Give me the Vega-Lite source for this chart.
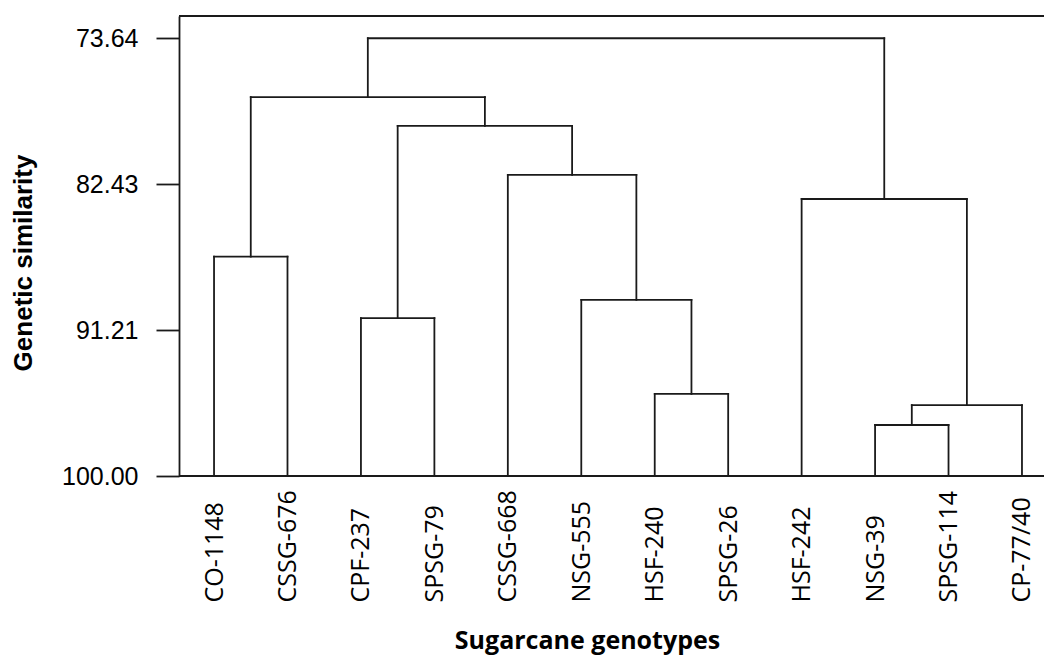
{
  "$schema": "https://vega.github.io/schema/vega-lite/v6.json",
  "width": 865,
  "height": 460,
  "autosize": {"type": "none"},
  "padding": {"left": 179, "top": 16, "right": 0, "bottom": 180},
  "background": "white",
  "config": {"view": {"stroke": null}},
  "datasets": {
    "links": [
      {"x": 1, "x2": 2, "y": 86.79, "y2": 86.79},
      {"x": 3, "x2": 4, "y": 90.49, "y2": 90.49},
      {"x": 7, "x2": 8, "y": 95.06, "y2": 95.06},
      {"x": 6, "x2": 7.5, "y": 89.40, "y2": 89.40},
      {"x": 5, "x2": 6.75, "y": 81.87, "y2": 81.87},
      {"x": 3.5, "x2": 5.875, "y": 78.92, "y2": 78.92},
      {"x": 1.5, "x2": 4.6875, "y": 77.18, "y2": 77.18},
      {"x": 10, "x2": 11, "y": 96.93, "y2": 96.93},
      {"x": 10.5, "x2": 12, "y": 95.73, "y2": 95.73},
      {"x": 9, "x2": 11.25, "y": 83.32, "y2": 83.32},
      {"x": 3.09375, "x2": 10.125, "y": 73.64, "y2": 73.64},
      {"x": 1.5, "x2": 1.5, "y": 86.79, "y2": 77.18},
      {"x": 3.5, "x2": 3.5, "y": 90.49, "y2": 78.92},
      {"x": 7.5, "x2": 7.5, "y": 95.06, "y2": 89.40},
      {"x": 6.75, "x2": 6.75, "y": 89.40, "y2": 81.87},
      {"x": 5.875, "x2": 5.875, "y": 81.87, "y2": 78.92},
      {"x": 4.6875, "x2": 4.6875, "y": 78.92, "y2": 77.18},
      {"x": 3.09375, "x2": 3.09375, "y": 77.18, "y2": 73.64},
      {"x": 10.5, "x2": 10.5, "y": 96.93, "y2": 95.73},
      {"x": 11.25, "x2": 11.25, "y": 95.73, "y2": 83.32},
      {"x": 10.125, "x2": 10.125, "y": 83.32, "y2": 73.64}
    ],
    "leaves": [
      {"genotype": "CO-1148", "top": 86.79, "base": 100},
      {"genotype": "CSSG-676", "top": 86.79, "base": 100},
      {"genotype": "CPF-237", "top": 90.49, "base": 100},
      {"genotype": "SPSG-79", "top": 90.49, "base": 100},
      {"genotype": "CSSG-668", "top": 81.87, "base": 100},
      {"genotype": "NSG-555", "top": 89.40, "base": 100},
      {"genotype": "HSF-240", "top": 95.06, "base": 100},
      {"genotype": "SPSG-26", "top": 95.06, "base": 100},
      {"genotype": "HSF-242", "top": 83.32, "base": 100},
      {"genotype": "NSG-39", "top": 96.93, "base": 100},
      {"genotype": "SPSG-114", "top": 96.93, "base": 100},
      {"genotype": "CP-77/40", "top": 95.73, "base": 100}
    ],
    "frame": [
      {"x": 0, "x2": 1, "y": 72.3},
      {"x": 0, "x2": 1, "y": 100}
    ]
  },
  "layer": [
    {
      "data": {"name": "links"},
      "mark": {"type": "rule", "color": "#1a1a1a", "strokeWidth": 1.8, "strokeCap": "square"},
      "encoding": {
        "x": {"field": "x", "type": "quantitative", "scale": {"domain": [0.5229, 12.2999], "nice": false, "zero": false}, "axis": null},
        "x2": {"field": "x2"},
        "y": {
          "field": "y", "type": "quantitative", "title": "Genetic similarity",
          "scale": {"domain": [72.3, 100], "reverse": true, "nice": false, "zero": false},
          "axis": {
            "orient": "left",
            "values": [73.64, 82.43, 91.21, 100],
            "format": ".2f",
            "grid": false,
            "domain": true, "domainColor": "#1a1a1a", "domainWidth": 1.8,
            "ticks": true, "tickSize": 23, "tickColor": "#1a1a1a", "tickWidth": 1.8,
            "labelPadding": 18, "labelFont": "Liberation Sans", "labelFontSize": 25, "labelColor": "#000000",
            "labelFlush": false, "labelOverlap": false,
            "title": "Genetic similarity",
            "titleFont": "Liberation Sans", "titleFontSize": 26, "titleFontWeight": "bold", "titleColor": "#000000",
            "titleAngle": 270, "titleAlign": "center", "titleBaseline": "alphabetic",
            "titleX": -148, "titleY": 246.5
          }
        },
        "y2": {"field": "y2"}
      }
    },
    {
      "data": {"name": "leaves"},
      "mark": {"type": "rule", "color": "#1a1a1a", "strokeWidth": 1.8, "strokeCap": "square"},
      "encoding": {
        "x": {
          "field": "genotype", "type": "nominal", "sort": null,
          "scale": {"type": "point", "padding": 0.3885, "align": 0.614},
          "axis": {
            "orient": "bottom",
            "domain": false, "ticks": false, "grid": false,
            "labelAngle": -90, "labelAlign": "left", "labelBaseline": "middle",
            "labelPadding": 126, "labelFont": "Open Sans", "labelFontSize": 25, "labelColor": "#000000",
            "labelFlush": false, "labelOverlap": false, "labelBound": false,
            "title": "Sugarcane genotypes",
            "titleFont": "Open Sans", "titleFontSize": 25, "titleFontWeight": "bold", "titleColor": "#000000",
            "titleAlign": "center", "titleBaseline": "alphabetic",
            "titleX": 408, "titleY": 172
          }
        },
        "y": {"field": "top", "type": "quantitative", "title": "Genetic similarity"},
        "y2": {"field": "base"}
      }
    },
    {
      "data": {"name": "frame"},
      "mark": {"type": "rule", "color": "#1a1a1a", "strokeWidth": 1.8},
      "encoding": {
        "x": {"field": "x", "type": "quantitative", "scale": {"domain": [0, 1], "nice": false, "zero": false}, "axis": null},
        "x2": {"field": "x2"},
        "y": {"field": "y", "type": "quantitative", "title": "Genetic similarity"}
      }
    }
  ],
  "resolve": {"scale": {"x": "independent"}}
}
